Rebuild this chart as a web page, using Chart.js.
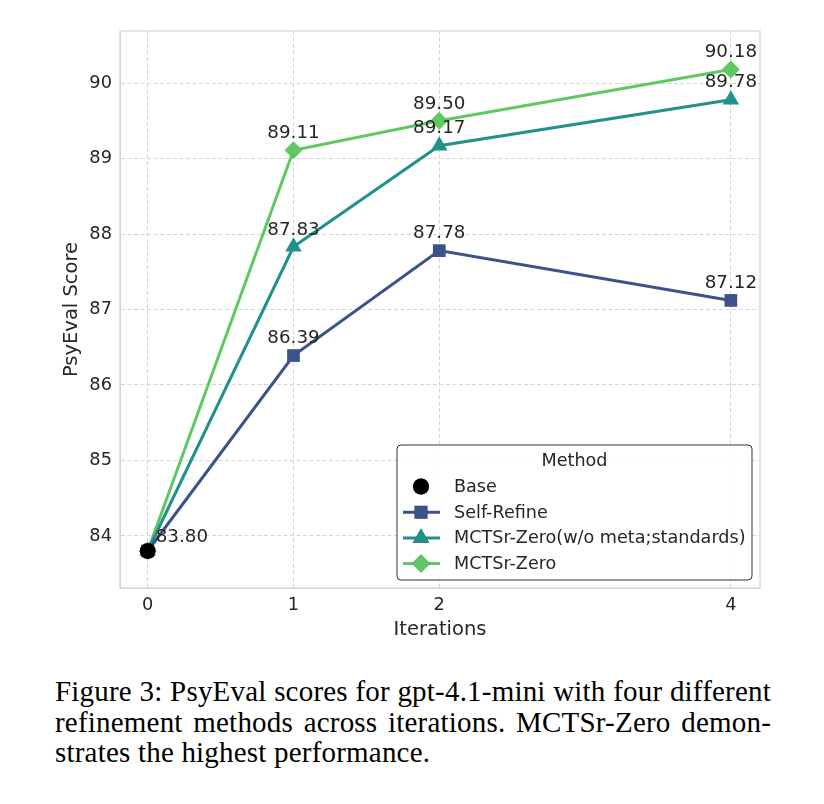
<!DOCTYPE html>
<html>
<head>
<meta charset="utf-8">
<script src="https://cdn.jsdelivr.net/npm/chart.js@4.4.1/dist/chart.umd.min.js"></script>
<style>
  body { margin: 0; background: #fff; }
  #wrap { position: relative; width: 824px; height: 804px; }
  #chartBox { position: absolute; left: 0; top: 0; width: 824px; height: 650px; }
  #caption {
    position: absolute; left: 55px; top: 676px; width: 716px;
    font-family: "Liberation Serif", "Times New Roman", serif;
    font-size: 29px; line-height: 30.5px; letter-spacing: 0.2px; color: #000;
  }
  #caption div { text-align: justify; text-align-last: justify; white-space: nowrap; }
  #caption div.last { text-align: left; text-align-last: left; }
</style>
</head>
<body>
<div id="wrap">
  <div id="chartBox"><canvas id="myChart"></canvas></div>
  <div id="caption">
    <div>Figure 3: PsyEval scores for gpt-4.1-mini with four different</div>
    <div>refinement methods across iterations. MCTSr-Zero demon-</div>
    <div class="last">strates the highest performance.</div>
  </div>
</div>
<script>
// data
const iterations = [0, 1, 2, 4]
const baseScore = [83.80]
const selfRefine = [83.80, 86.39, 87.78, 87.12]
const mctsrNoMeta = [83.80, 87.83, 89.17, 89.78]
const mctsrZero = [83.80, 89.11, 89.50, 90.18]
const yTicks = [84, 85, 86, 87, 88, 89, 90]
const seriesNames = ['Base', 'Self-Refine', 'MCTSr-Zero(w/o meta;standards)', 'MCTSr-Zero']

const textColor = '#262626'
const gridColor = '#d4d4d4'
const font = 'DejaVu Sans'

const toPoints = (vals) => vals.map((v, i) => ({ x: iterations[i], y: v }))

// number labels above each point
const valueLabels = {
  id: 'valueLabels',
  afterDatasetsDraw(chart) {
    const ctx = chart.ctx
    ctx.save()
    ctx.font = '18.3px "' + font + '"'
    ctx.fillStyle = textColor
    ctx.textBaseline = 'middle'
    chart.data.datasets.forEach((ds, di) => {
      const meta = chart.getDatasetMeta(di)
      meta.data.forEach((pt, i) => {
        const v = ds.data[i].y
        if (di === 0) {
          ctx.textAlign = 'left'
          ctx.fillText(v.toFixed(2), pt.x + 8, pt.y - 14)
        } else if (i > 0) {
          ctx.textAlign = 'center'
          ctx.fillText(v.toFixed(2), pt.x, pt.y - 17)
        }
      })
    })
    ctx.restore()
  }
}

// light frame round the plot area
const frame = {
  id: 'frame',
  beforeDatasetsDraw(chart) {
    const a = chart.chartArea
    const ctx = chart.ctx
    ctx.save()
    ctx.strokeStyle = '#d6d6d6'
    ctx.lineWidth = 1.25
    ctx.strokeRect(a.left, a.top, a.right - a.left, a.bottom - a.top)
    ctx.restore()
  }
}

// legend box inside the plot, lower right
const legendBox = {
  id: 'legendBox',
  afterDraw(chart) {
    const ctx = chart.ctx
    const x0 = 397, y0 = 445, w = 355, h = 135
    ctx.save()
    ctx.fillStyle = 'rgba(255,255,255,0.85)'
    ctx.strokeStyle = '#333'
    ctx.lineWidth = 1
    ctx.beginPath()
    ctx.roundRect(x0, y0, w, h, 4)
    ctx.fill()
    ctx.stroke()
    ctx.fillStyle = textColor
    ctx.font = '17.6px "' + font + '"'
    ctx.textBaseline = 'middle'
    ctx.textAlign = 'center'
    ctx.fillText('Method', x0 + w / 2, y0 + 16)
    ctx.textAlign = 'left'
    chart.data.datasets.forEach((ds, i) => {
      const y = y0 + 41.5 + i * 25.7
      if (i > 0) {
        ctx.strokeStyle = ds.borderColor
        ctx.lineWidth = ds.borderWidth
        ctx.beginPath()
        ctx.moveTo(403, y)
        ctx.lineTo(440, y)
        ctx.stroke()
      }
      Chart.helpers.drawPoint(ctx, {
        pointStyle: ds.pointStyle, radius: ds.pointRadius, rotation: 0,
        borderWidth: 0
      }, 421, y)
      ctx.fillStyle = ds.pointBackgroundColor
      ctx.fill()
      ctx.fillStyle = textColor
      ctx.fillText(ds.label, 454, y + 1)
    })
    ctx.restore()
  }
}

const ctx = document.getElementById('myChart')
const myChart = new Chart(ctx, {
  type: 'line',
  data: {
    datasets: [
      {
        label: seriesNames[0],
        data: toPoints(baseScore),
        showLine: false,
        pointStyle: 'circle',
        pointRadius: 8,
        pointBackgroundColor: '#000',
        pointBorderWidth: 0,
        borderColor: '#000'
      },
      {
        label: seriesNames[1],
        data: toPoints(selfRefine),
        borderColor: '#3b528b',
        borderWidth: 3,
        pointStyle: 'rect',
        pointRadius: 9,
        pointBackgroundColor: '#3b528b',
        pointBorderWidth: 0
      },
      {
        label: seriesNames[2],
        data: toPoints(mctsrNoMeta),
        borderColor: '#21918c',
        borderWidth: 3,
        pointStyle: 'triangle',
        pointRadius: 9.5,
        pointBackgroundColor: '#21918c',
        pointBorderWidth: 0
      },
      {
        label: seriesNames[3],
        data: toPoints(mctsrZero),
        borderColor: '#5ec962',
        borderWidth: 3,
        pointStyle: 'rectRot',
        pointRadius: 9,
        pointBackgroundColor: '#5ec962',
        pointBorderWidth: 0
      }
    ]
  },
  options: {
    responsive: true,
    maintainAspectRatio: false,
    animation: false,
    layout: { padding: { left: 0, top: 31, right: 64, bottom: 0 } },
    plugins: {
      legend: { display: false },
      tooltip: { enabled: false }
    },
    scales: {
      x: {
        type: 'linear',
        min: -0.19,
        max: 4.2,
        afterBuildTicks: (s) => { s.ticks = iterations.map(v => ({ value: v })) },
        afterFit: (s) => { s.height = 62 },
        grid: { color: gridColor, lineWidth: 1, drawTicks: false },
        border: { display: true, color: '#d6d6d6', dash: [4, 2.5] },
        ticks: {
          color: textColor, padding: 7,
          font: { family: font, size: 17.8 },
          callback: (v) => String(v)
        },
        title: {
          display: true, text: 'Iterations', color: textColor,
          font: { family: font, size: 19.5 }, padding: { top: 0, bottom: 8 }
        }
      },
      y: {
        min: 83.31,
        max: 90.69,
        afterBuildTicks: (s) => { s.ticks = yTicks.map(v => ({ value: v })) },
        afterFit: (s) => { s.width = 120 },
        grid: { color: gridColor, lineWidth: 1, drawTicks: false },
        border: { display: true, color: '#d6d6d6', dash: [4, 2.5] },
        ticks: {
          color: textColor, padding: 8,
          font: { family: font, size: 17.8 },
          callback: (v) => String(v)
        },
        title: {
          display: true, text: 'PsyEval Score', color: textColor,
          font: { family: font, size: 19.5 }, padding: { top: 60, bottom: 0 }
        }
      }
    }
  },
  plugins: [frame, valueLabels, legendBox]
})
</script>
</body>
</html>
